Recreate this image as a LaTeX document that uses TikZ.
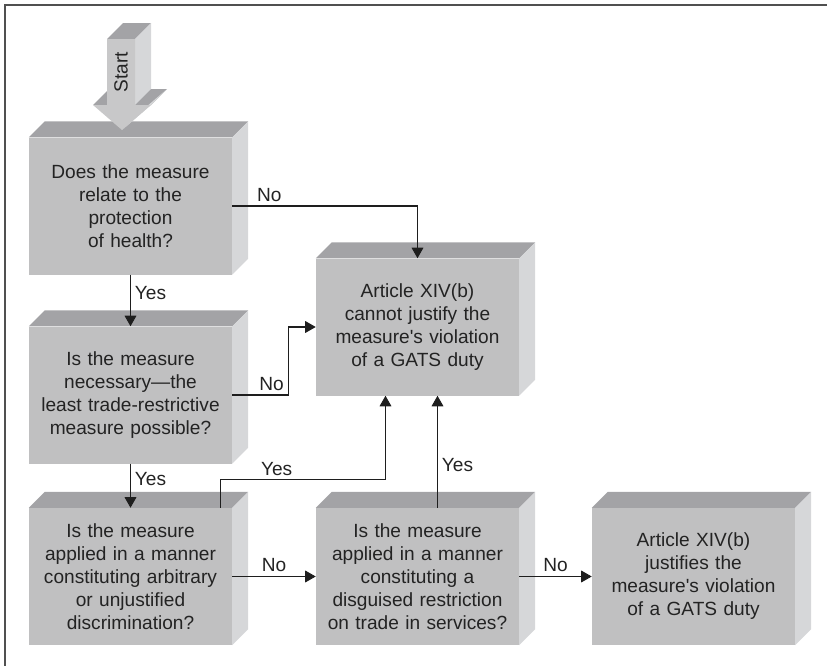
\documentclass[tikz,border=0pt]{standalone}
\usepackage{fontspec}
\setmainfont{Liberation Sans}
\usepackage{tikz}
\usetikzlibrary{arrows.meta}
\definecolor{boxfront}{RGB}{192,192,193}
\definecolor{boxtop}{RGB}{163,163,166}
\definecolor{boxside}{RGB}{214,215,217}
\definecolor{startfront}{RGB}{200,200,201}
\definecolor{linegray}{RGB}{30,30,30}
\definecolor{inkgray}{RGB}{35,35,35}
\definecolor{framegray}{RGB}{80,80,80}

\begin{document}
\begin{tikzpicture}[x=0.03cm, y=-0.03cm, >={Triangle[length=9pt,width=10pt]},
  every node/.style={font=\fontsize{16.3}{19.6}\selectfont, text=inkgray},
  box/.style={fill=boxfront, minimum width=6.09cm, minimum height=4.11cm,
    inner sep=0pt, text width=5.9cm, align=center},
  link/.style={draw=linegray, line width=0.9pt}]
\useasboundingbox (0,0) rectangle (827,666);
\draw[framegray, line width=1.6pt] (827,5) -- (5,5) -- (5,666);

\node[box] (health) at (130.5,206) {Does the measure\\relate to the\\protection\\of health?};
\node[box] (necessary) at (130.5,395) {Is the measure\\necessary—the\\least trade-restrictive\\measure possible?};
\node[box] (arbitrary) at (130.5,576.5) {Is the measure\\applied in a manner\\constituting arbitrary\\or unjustified\\discrimination?};
\node[box] (disguised) at (417.5,576.5) {Is the measure\\applied in a manner\\constituting a\\disguised restriction\\on trade in services?};
\node[box] (justifies) at (693.5,576.5) {Article XIV(b)\\justifies the\\measure\textquotesingle s violation\\of a GATS duty};
\node[box] (cannot) at (417.5,327) {Article XIV(b)\\cannot justify the\\measure\textquotesingle s violation\\of a GATS duty};

% top and side faces
\foreach \n in {health,necessary,arbitrary,disguised,justifies,cannot} {
  \fill[boxtop] (\n.north west) -- ++(16,-16) -- ([shift={(16,-16)}]\n.north east) -- (\n.north east) -- cycle;
  \fill[boxside] (\n.north east) -- ++(16,-16) -- ([shift={(16,-16)}]\n.south east) -- (\n.south east) -- cycle;
}

% start arrow
\fill[boxtop] (107,39) -- (123,23) -- (151,23) -- (135,39) -- cycle;
\fill[boxside] (135,39) -- (151,23) -- (151,89) -- (135,105) -- cycle;
\fill[boxtop] (135,105) -- (151,89) -- (167,89) -- (151,105) -- cycle;
\fill[boxside] (151,105) -- (167,89) -- (138,114) -- (122,130) -- cycle;
\fill[boxtop] (93,105) -- (109,89) -- (123,89) -- (107,105) -- cycle;
\fill[startfront] (107,39) -- (135,39) -- (135,105) -- (151,105) -- (122,130) -- (93,105) -- (107,105) -- cycle;
\node[rotate=90] (start) at (121,72) {Start};

\draw[link,->] (health.south) -- node[pos=0.35,right]{Yes} (necessary.north);
\draw[link,->] (necessary.south) -- node[pos=0.35,right]{Yes} (arbitrary.north);
\draw[link,->] (health.east) -| node[pos=0.1,above]{No} (cannot.north);
\draw[link,->] (necessary.east) -- ++(56,0) node[above left]{No} |- (cannot.west);
\draw[link,->] ([shift={(90,0)}]arbitrary.north) -- ++(0,-28) -| node[pos=0.17,above]{Yes} ([shift={(-32,0)}]cannot.south);
\draw[link,->] ([shift={(20,0)}]disguised.north) -- node[pos=0.38,right]{Yes} ([shift={(20,0)}]cannot.south);
\draw[link,->] (arbitrary.east) -- node[above]{No} (disguised.west);
\draw[link,->] (disguised.east) -- node[above]{No} (justifies.west);
\end{tikzpicture}
\end{document}
